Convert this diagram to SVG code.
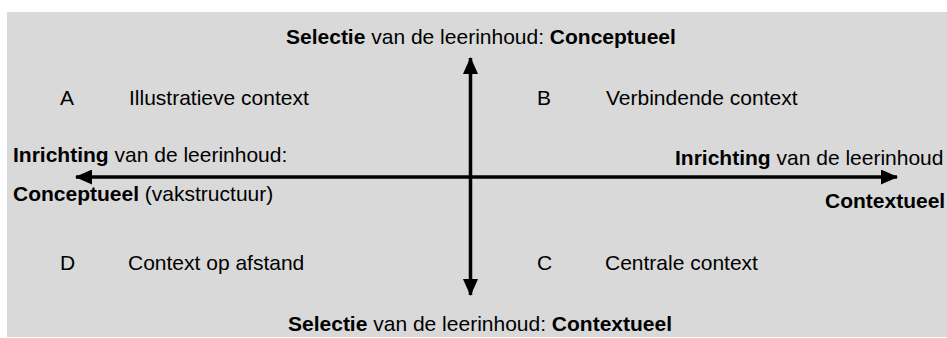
<svg xmlns="http://www.w3.org/2000/svg" width="947" height="338" viewBox="0 0 947 338">
  <style>
    text { font-family: "Liberation Sans", Arial, sans-serif; font-size: 21px; fill: #000; }
    .b { font-weight: bold; }
    .axis { stroke: #000; stroke-width: 3.5; fill: none; }
  </style>
  <defs>
    <marker id="head" markerUnits="userSpaceOnUse" markerWidth="17" markerHeight="15" refX="16" refY="7.5" orient="auto-start-reverse" viewBox="0 0 17 15">
      <path d="M0,0 L17,7.5 L0,15 z" fill="#000"/>
    </marker>
  </defs>
  <rect x="7" y="12" width="940" height="325" fill="#d9d9d9"/>

  <g id="connectors">
    <line class="axis" x1="470.5" y1="58" x2="470.5" y2="295" marker-start="url(#head)" marker-end="url(#head)"/>
    <line class="axis" x1="76" y1="177" x2="897" y2="177" marker-start="url(#head)" marker-end="url(#head)"/>
  </g>

  <g id="top-label">
    <text x="286" y="44"><tspan class="b">Selectie</tspan> van de leerinhoud: <tspan class="b">Conceptueel</tspan></text>
  </g>
  <g id="bottom-label">
    <text x="288" y="331"><tspan class="b">Selectie</tspan> van de leerinhoud: <tspan class="b">Contextueel</tspan></text>
  </g>
  <g id="left-label">
    <text x="13" y="162"><tspan class="b">Inrichting</tspan> van de leerinhoud:</text>
    <text x="13" y="201"><tspan class="b">Conceptueel</tspan> (vakstructuur)</text>
  </g>
  <g id="right-label">
    <text x="675" y="165"><tspan class="b">Inrichting</tspan> van de leerinhoud</text>
    <text x="825" y="208" class="b">Contextueel</text>
  </g>

  <g id="quadrant-A">
    <text x="60" y="105">A</text>
    <text x="129" y="105">Illustratieve context</text>
  </g>
  <g id="quadrant-B">
    <text x="537" y="105">B</text>
    <text x="606" y="105">Verbindende context</text>
  </g>
  <g id="quadrant-D">
    <text x="60" y="270">D</text>
    <text x="128" y="270">Context op afstand</text>
  </g>
  <g id="quadrant-C">
    <text x="537" y="270">C</text>
    <text x="605" y="270">Centrale context</text>
  </g>
</svg>
